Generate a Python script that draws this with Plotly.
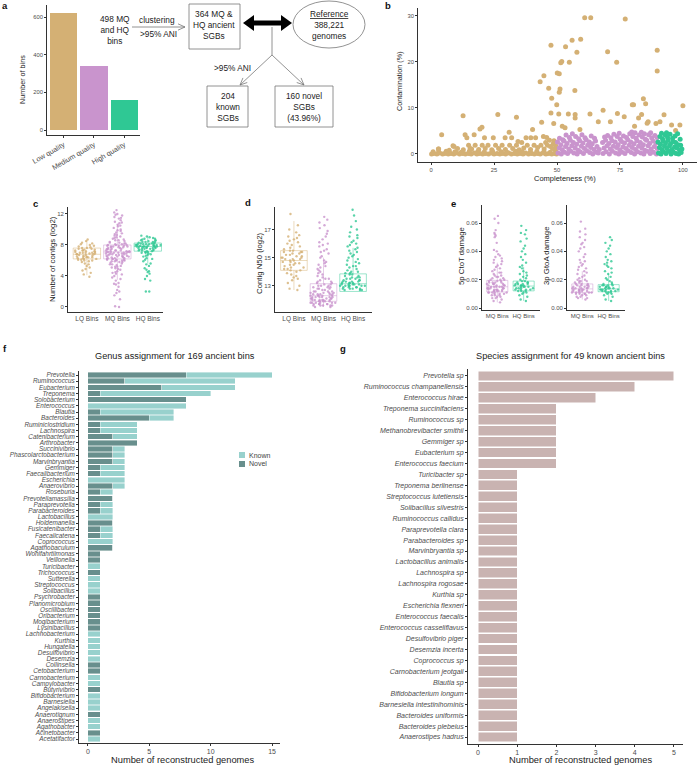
import math
import plotly.graph_objects as go

W, H = 698, 765
FONT = "Liberation Sans, Arial, Helvetica, sans-serif"

# ---------------- data ----------------
quality_labels = ["Low quality", "Medium quality", "High quality"]
bin_counts = [620, 338, 160]

# panel b: completeness / contamination (LQ scattered, LQ band, MQ, HQ)
lq_comp = [47.6,51.5,51.9,53.4,54.9,56.0,57.9,59.4,61.0,63.4,77.1,70.1,73.7,89.8,89.8,43.3,44.8,46.7,47.9,49.9,
           50.1,50.9,51.2,50.9,57.1,80.4,84.3,85.2,100.0,12.7,26.5,33.9,4.2,2.9,8.7,13.5,14.2,17.1,19.4,20.2,
           21.2,24.7,29.4,31.0,32.0,37.7,39.6,41.5,40.3,43.9,44.6,45.9,47.6,48.7,50.7,52.1,53.2,54.5,57.2,57.2,
           59.1,63.1,66.4,68.3,71.2,74.0,76.7,79.9,82.4,83.6,80.8,86.2,85.8,89.3,90.9,92.5,95.5,98.8,97.1]
lq_cont = [23.6,19.8,20.1,23.3,19.9,24.7,22.1,24.9,29.6,29.6,29.3,22.2,19.9,22.5,18.0,15.7,17.0,14.3,12.1,10.7,
           17.6,17.4,14.1,13.4,13.8,10.7,12.0,10.9,10.5,8.3,8.6,8.0,4.2,1.1,1.8,4.2,3.5,4.2,5.4,5.8,
           3.5,3.5,3.5,4.7,3.5,3.5,3.5,3.5,5.3,6.9,3.8,3.6,8.9,6.6,8.7,6.0,5.7,8.7,8.6,7.8,
           5.3,8.7,7.0,9.5,7.0,8.8,8.1,10.7,7.8,8.6,6.0,7.0,6.7,6.6,7.0,8.5,6.3,6.3,5.1]
lqb_comp = [0.2,1.1,2.3,3.4,4.6,5.5,6.8,7.9,9.0,10.2,11.3,12.5,13.6,14.8,15.9,17.1,18.2,19.3,20.5,21.6,22.8,23.9,
            25.0,26.2,27.3,28.5,29.6,30.8,31.9,33.0,34.2,35.3,36.5,37.6,38.7,39.9,41.0,42.2,43.3,44.5,45.6,46.7,
            47.9,49.0,49.8]
lqb_cont = [0.0,0.1,0.0,0.2,0.0,0.1,0.0,0.1,0.0,0.2,0.0,0.1,0.0,0.1,0.0,0.2,0.0,0.1,0.0,0.1,0.0,0.2,
            0.0,0.1,0.0,0.1,0.0,0.2,0.0,0.1,0.0,0.1,0.0,0.2,0.0,0.1,0.0,0.1,0.0,0.2,0.0,0.1,
            0.0,0.1,0.0]
lqr_comp = [0.8,3.0,6.0,9.5,12.0,15.2,18.5,21.0,24.4,27.8,30.1,33.6,36.2,39.4,42.0,44.8,47.3,49.5,
            12.8,14.9,16.1,17.5,18.9,20.3,21.5,22.6,24.1,25.6,26.8,28.2,29.5,31.2,32.4,33.9,35.0,36.8,38.2,39.5,
            40.9,42.3,43.6,44.9,46.2,47.4,48.5,49.3,45.5,47.0,48.8,36.0,10.5,9.1,7.2,3.0,15.5,34.5,49.5,48.2]
lqr_cont = [0.5,0.4,0.6,0.5,0.4,0.6,0.5,0.4,0.6,0.5,0.4,0.6,0.5,0.4,0.6,0.5,0.4,0.6,
            0.9,1.9,1.1,1.9,1.0,1.9,1.2,1.9,0.9,1.9,1.2,1.9,1.0,1.9,1.2,1.9,0.9,1.3,1.9,1.0,
            1.9,1.4,1.9,1.1,1.9,1.6,2.2,1.1,2.5,3.0,2.9,2.5,1.2,1.6,0.8,1.1,1.2,2.7,1.8,1.2]
mq_comp = [50.4,50.9,50.2,51.0, 51.7,52.1,51.5,52.3, 53.0,53.4,52.8,53.6, 54.2,54.7,54.0,54.9, 55.5,55.9,55.3,56.1,
           56.7,57.2,56.5,57.4, 58.0,58.4,57.8,58.6, 59.2,59.7,59.0,59.9, 60.5,60.9,60.3,61.1, 61.8,62.2,61.6,
           63.0,63.4,62.8,63.6, 64.2,64.7,64.0,64.9, 65.5,65.9,65.3, 66.4,66.8, 68.3,68.7,68.1,68.9,
           69.5,69.9,69.3,70.1, 70.8,71.2,70.6,71.4, 72.0,72.4,71.8,72.6, 73.3,73.7,73.1,73.9,
           74.5,74.9,74.3,75.1,74.7, 75.8,76.2,75.6,76.4, 77.0,77.4,76.8,77.6, 78.3,78.7,78.1,78.9,
           79.5,79.9,79.3,80.1,79.7, 80.8,81.2,80.6,81.4,81.0, 82.0,82.4,81.8,82.6, 83.3,83.7,83.1,83.9,83.5,
           84.5,84.9,84.3,85.1,84.7, 85.8,86.2,85.6,86.4, 87.0,87.4,86.8,87.6,87.2, 88.3,88.7,88.1,88.9,
           89.5,89.8,89.3,89.7]
mq_cont = [0.2,1.3,2.6,3.4, 0.0,0.9,2.0,3.1, 0.4,1.6,2.8,4.1, 0.1,1.1,2.3,3.6, 0.6,1.8,3.0,4.4,
           0.2,1.3,2.5,3.8, 0.0,0.8,2.1,3.3, 0.5,1.7,2.9,4.2, 0.1,1.2,2.4,3.5, 0.7,1.9,3.1,
           0.3,1.4,2.6,3.9, 0.0,1.0,2.2,3.4, 0.4,1.6,2.8, 0.2,1.0, 0.1,1.3,2.5,3.7,
           0.5,1.8,3.0,4.0, 0.0,1.1,2.3,3.5, 0.6,1.7,2.9,4.3, 0.2,1.4,2.6,3.8,
           0.0,0.9,2.0,3.2,4.5, 0.4,1.5,2.7,3.9, 0.1,1.2,2.4,3.6, 0.7,1.9,3.1,4.4,
           0.3,1.4,2.6,3.8,4.8, 0.0,1.0,2.2,3.4,4.6, 0.5,1.7,2.9,4.1, 0.2,1.3,2.5,3.7,4.7,
           0.0,0.8,2.0,3.2,4.4, 0.6,1.8,3.0,4.2, 0.1,1.1,2.3,3.5,4.6, 0.4,1.6,2.8,4.0,
           0.0,1.2,2.4,3.6]
hq_comp = [90.3,90.7,90.1,90.9, 91.3,91.7,91.1,91.9,91.5, 92.3,92.7,92.1,92.9, 93.3,93.7,93.1,93.9,93.5,
           94.3,94.7,94.1,94.9, 95.3,95.7,95.1,95.9, 96.3,96.7,96.1,96.9, 97.3,97.7,97.1,97.9,
           98.3,98.7,98.1,98.9, 99.3,99.6,99.1]
hq_cont = [0.2,1.4,2.6,3.8, 0.0,0.9,2.1,3.3,4.5, 0.5,1.7,2.9,4.2, 0.1,1.2,2.4,3.6,4.6,
           0.6,1.8,3.0,4.3, 0.0,1.0,2.2,3.4, 0.4,1.5,2.7,3.9, 0.1,1.3,2.5,4.4,
           0.0,0.8,2.0,3.2, 0.3,1.1,1.9]

bin_groups = ["LQ Bins", "MQ Bins", "HQ Bins"]
# panel c: number of contigs (log2)
c_lq = [3.9,4.2,4.4,4.7,4.9,5.1,5.3,5.5,5.6,5.8,5.9,6.0,6.1,6.1,6.2,6.2,6.3,6.3,6.4,6.4,6.5,6.5,6.5,6.6,6.6,6.7,
        6.7,6.8,6.8,6.8,6.9,6.9,7.0,7.0,7.0,7.1,7.1,7.2,7.2,7.3,7.3,7.4,7.4,7.5,7.5,7.6,7.6,7.7,7.8,7.9,8.0,8.1,
        8.2,8.3,8.5,8.7,6.0,6.4,7.0,7.3]
c_mq = [0.0,0.1,1.0,1.5,1.8,2.2,2.6,2.9,3.1,3.4,3.6,3.8,4.0,4.2,4.3,4.5,4.6,4.8,4.9,5.0,5.1,5.2,5.3,5.4,5.5,5.6,
        5.7,5.8,5.9,6.0,6.0,6.1,6.1,6.2,6.2,6.3,6.3,6.4,6.4,6.5,6.5,6.6,6.6,6.7,6.7,6.8,6.8,6.9,6.9,7.0,7.0,7.0,
        7.1,7.1,7.1,7.2,7.2,7.3,7.3,7.4,7.4,7.5,7.5,7.6,7.6,7.7,7.7,7.8,7.8,7.9,7.9,8.0,8.0,8.1,8.2,8.3,8.4,8.5,
        8.6,8.7,8.8,8.9,9.0,9.1,9.3,9.4,9.6,9.8,10.0,10.2,10.4,10.6,10.8,11.0,11.2,11.4,11.6,11.8,12.0,12.2,12.5,
        5.5,6.0,6.5,7.0,7.5,8.0,6.2,6.8,7.3,7.8,5.8,6.6,7.2,8.2,9.5,10.5,11.5,3.0,2.0,
        6.1,6.3,6.5,6.7,6.9,7.1,7.3,7.5,7.7,7.9,8.1,8.3,8.6,9.2,9.9,10.9,11.9,4.4,5.2,5.9]
c_hq = [2.0,2.0,3.4,3.6,4.0,4.3,4.5,4.6,4.8,5.0,5.3,5.6,5.9,6.1,6.3,6.5,6.6,6.8,6.9,7.0,7.1,7.1,7.2,7.2,7.3,7.3,
        7.4,7.4,7.5,7.5,7.6,7.6,7.7,7.7,7.7,7.8,7.8,7.8,7.9,7.9,7.9,8.0,8.0,8.0,8.1,8.1,8.1,8.2,8.2,8.3,8.3,8.4,
        8.4,8.5,8.5,8.6,8.6,8.7,8.8,8.9,9.0,9.1,9.2,7.5,7.8,8.0,8.2,7.6,7.9,8.1,7.3,6.7,6.2,5.5,8.8,8.4,7.0,7.6,
        7.8,8.0]
# box stats: q1, median, q3, lower whisker, upper whisker
c_stats = [[6.2, 6.8, 7.6, 4.1, 8.7], [6.2, 7.1, 8.0, 3.5, 10.7], [7.2, 7.8, 8.25, 5.6, 9.2]]

# panel d: contig N50 (log2)
d_lq = [12.7,12.8,13.0,13.2,13.4,13.5,13.7,13.8,13.9,14.0,14.1,14.1,14.2,14.3,14.3,14.4,14.5,14.5,14.6,14.7,14.7,
        14.8,14.8,14.9,14.9,15.0,15.0,15.1,15.1,15.2,15.2,15.3,15.3,15.4,15.4,15.5,15.5,15.6,15.7,15.8,15.9,16.0,
        16.1,16.2,16.3,16.5,16.6,16.8,17.0,17.3,18.1,14.2,14.6,15.0,15.4,13.6,16.4,14.9]
d_mq = [11.5,11.5,11.6,11.6,11.6,11.7,11.7,11.7,11.7,11.8,11.8,11.8,11.8,11.9,11.9,11.9,11.9,12.0,12.0,12.0,12.0,
        12.1,12.1,12.1,12.1,12.2,12.2,12.2,12.2,12.3,12.3,12.3,12.3,12.4,12.4,12.4,12.5,12.5,12.5,12.6,12.6,12.6,
        12.7,12.7,12.8,12.8,12.9,12.9,13.0,13.0,13.1,13.1,13.2,13.3,13.3,13.4,13.5,13.6,13.7,13.8,13.9,14.0,14.1,
        14.2,14.3,14.4,14.6,14.7,14.8,15.0,15.1,15.3,15.4,15.6,15.8,15.9,16.1,16.3,16.5,16.7,16.9,17.1,17.3,17.5,
        17.7,17.9,11.6,11.8,12.0,12.2,12.4,11.7,11.9,12.1,12.3,12.6,12.9,13.2,11.6,12.0,12.4,12.8,11.8,12.2,12.5,
        13.0,13.5,14.5,15.5,16.0]
d_hq = [12.7,12.7,12.8,12.8,12.8,12.9,12.9,12.9,13.0,13.0,13.0,13.0,13.1,13.1,13.1,13.1,13.2,13.2,13.2,13.3,13.3,
        13.3,13.4,13.4,13.5,13.5,13.6,13.6,13.7,13.7,13.8,13.8,13.9,13.9,14.0,14.1,14.2,14.3,14.4,14.5,14.6,14.7,
        14.8,14.9,15.0,15.1,15.2,15.3,15.4,15.5,15.6,15.7,15.8,15.9,16.0,16.1,16.2,16.4,16.5,16.6,16.8,17.0,17.2,
        17.6,18.0,18.4,12.8,13.0,13.2,13.4,12.9,13.1,13.3,13.6,14.0,14.4,12.7,13.0,13.5]
d_stats = [[14.1, 14.8, 15.5, 12.7, 17.6], [11.9, 12.3, 13.15, 11.5, 15.0], [12.6, 13.15, 13.85, 12.6, 15.7]]

# panel e: damage
dmg_groups = ["MQ Bins", "HQ Bins"]
e1_mq = [0.004,0.005,0.006,0.007,0.007,0.008,0.008,0.009,0.009,0.010,0.010,0.010,0.011,0.011,0.011,0.011,0.012,
         0.012,0.012,0.012,0.013,0.013,0.013,0.013,0.014,0.014,0.014,0.014,0.015,0.015,0.015,0.015,0.016,0.016,
         0.016,0.017,0.017,0.017,0.018,0.018,0.018,0.019,0.019,0.019,0.020,0.020,0.021,0.021,0.022,0.022,0.023,
         0.023,0.024,0.025,0.025,0.026,0.027,0.028,0.029,0.030,0.031,0.032,0.033,0.034,0.035,0.036,0.037,0.038,
         0.040,0.041,0.046,0.050,0.051,0.052,0.053,0.055,0.060,0.063,0.065,0.012,0.014,0.016,0.018,0.013,0.015,
         0.017,0.011,0.020,0.009]
e1_hq = [0.005,0.006,0.008,0.009,0.010,0.011,0.011,0.012,0.012,0.013,0.013,0.013,0.014,0.014,0.014,0.015,0.015,
         0.015,0.016,0.016,0.016,0.017,0.017,0.017,0.018,0.018,0.019,0.019,0.020,0.021,0.022,0.023,0.024,0.025,
         0.026,0.028,0.029,0.030,0.032,0.034,0.036,0.038,0.040,0.042,0.044,0.047,0.049,0.052,0.053,0.055,0.058,
         0.013,0.015,0.017,0.014,0.016,0.012,0.018]
e2_mq = [0.006,0.007,0.007,0.008,0.008,0.009,0.009,0.010,0.010,0.010,0.011,0.011,0.011,0.011,0.012,0.012,0.012,
         0.012,0.013,0.013,0.013,0.013,0.014,0.014,0.014,0.014,0.015,0.015,0.015,0.016,0.016,0.016,0.017,0.017,
         0.018,0.018,0.019,0.019,0.020,0.020,0.021,0.022,0.023,0.024,0.025,0.026,0.027,0.028,0.029,0.030,0.031,
         0.032,0.033,0.034,0.036,0.038,0.040,0.042,0.043,0.045,0.046,0.048,0.050,0.052,0.054,0.056,0.061,0.012,
         0.013,0.014,0.015,0.011,0.016,0.010,0.017,0.019]
e2_hq = [0.005,0.006,0.008,0.009,0.010,0.010,0.011,0.011,0.012,0.012,0.012,0.013,0.013,0.013,0.013,0.014,0.014,
         0.014,0.015,0.015,0.015,0.016,0.016,0.016,0.017,0.017,0.018,0.019,0.020,0.021,0.022,0.024,0.025,0.026,
         0.028,0.029,0.030,0.031,0.032,0.033,0.034,0.036,0.038,0.040,0.042,0.044,0.046,0.048,0.050,0.012,0.014,
         0.013,0.015,0.011,0.016]
e1_stats = [[0.0113, 0.015, 0.0195, 0.004, 0.032], [0.0121, 0.0155, 0.019, 0.005, 0.029]]
e2_stats = [[0.011, 0.0135, 0.017, 0.006, 0.026], [0.0115, 0.0135, 0.0165, 0.005, 0.024]]

# panel f: genus assignment
genera = ["Prevotella","Ruminococcus","Eubacterium","Treponema","Solobacterium","Enterococcus","Blautia",
          "Bacteroides","Ruminiclostridium","Lachnospira","Catenibacterium","Arthrobacter","Succinivibrio",
          "Phascolarctobacterium","Marvinbryantia","Gemmiger","Faecalibacterium","Escherichia","Anaerovibrio",
          "Roseburia","Prevotellamassilia","Paraprevotella","Parabacteroides","Lactobacillus","Holdemanella",
          "Fusicatenibacter","Faecalicatena","Coprococcus","Agathobaculum","Wohlfahrtiimonas","Veillonella",
          "Turicibacter","Trichococcus","Sutterella","Streptococcus","Solibacillus","Psychrobacter",
          "Planomicrobium","Oscillibacter","Oribacterium","Mogibacterium","Lysinibacillus","Lachnobacterium",
          "Kurthia","Hungatella","Desulfovibrio","Desemzia","Collinsella","Cetobacterium","Carnobacterium",
          "Campylobacter","Butyrivibrio","Bifidobacterium","Barnesiella","Angelakisella","Anaerotignum",
          "Anaerostipes","Agathobacter","Acinetobacter","Acetatifactor"]
genus_novel = [8,3,6,1,8,0,1,5,1,1,2,4,2,2,2,1,1,0,2,1,2,1,1,0,2,1,1,0,2,1,1,0,1,0,0,0,1,1,1,1,1,1,0,0,0,0,0,
               1,1,0,0,1,0,0,0,1,0,0,1,0]
genus_known = [7,9,6,9,0,8,6,2,3,3,2,0,1,1,1,2,2,3,1,1,0,1,1,2,0,1,1,2,0,0,0,1,0,1,1,1,0,0,0,0,0,0,1,1,1,1,1,
               0,0,1,1,0,1,1,1,0,1,1,0,1]

# panel g: species assignment
species = ["Prevotella sp","Ruminococcus champanellensis","Enterococcus hirae","Treponema succinifaciens",
           "Ruminococcus sp","Methanobrevibacter smithii","Gemmiger sp","Eubacterium sp","Enterococcus faecium",
           "Turicibacter sp","Treponema berlinense","Streptococcus lutetiensis","Solibacillus silvestris",
           "Ruminococcus callidus","Paraprevotella clara","Parabacteroides sp","Marvinbryantia sp",
           "Lactobacillus animalis","Lachnospira sp","Lachnospira rogosae","Kurthia sp","Escherichia flexneri",
           "Enterococcus faecalis","Enterococcus casseliflavus","Desulfovibrio piger","Desemzia incerta",
           "Coprococcus sp","Carnobacterium jeotgali","Blautia sp","Bifidobacterium longum",
           "Barnesiella intestinihominis","Bacteroides uniformis","Bacteroides plebeius","Anaerostipes hadrus"]
species_counts = [5,4,3,2,2,2,2,2,2,1,1,1,1,1,1,1,1,1,1,1,1,1,1,1,1,1,1,1,1,1,1,1,1,1]

# ---------------- styling ----------------
C_LQ, C_MQ, C_HQ = "#D4B074", "#C994CD", "#2FC894"
C_LQ_L, C_MQ_L, C_HQ_L = "rgba(212,176,116,0.6)", "rgba(201,148,205,0.6)", "rgba(47,200,148,0.6)"
C_KNOWN, C_NOVEL, C_SP = "#98D1CD", "#688F8D", "#C9B3B1"
AX = "#333333"
TICK = "#4d4d4d"


def X(p):
    return p / W


def Y(p):
    return 1 - p / H


def axis(dom, rng, size=6, **kw):
    d = dict(domain=dom, range=rng, showline=True, linecolor=AX, linewidth=0.8, ticks="outside",
             ticklen=2, tickwidth=0.6, tickcolor=AX, showgrid=False, zeroline=False, automargin=False,
             tickfont=dict(family=FONT, size=size, color=TICK), fixedrange=True)
    d.update(kw)
    return d


fig = go.Figure()

# a: bars
fig.add_trace(go.Bar(x=quality_labels, y=bin_counts, marker=dict(color=[C_LQ, C_MQ, C_HQ], line=dict(width=0)),
                     width=0.9, xaxis="x", yaxis="y", showlegend=False))

# b: scatter
fig.add_trace(go.Scatter(x=lq_comp + lqb_comp + lqr_comp, y=lq_cont + lqb_cont + lqr_cont, mode="markers",
                         marker=dict(color=C_LQ, size=5), xaxis="x2", yaxis="y2", showlegend=False))
fig.add_trace(go.Scatter(x=mq_comp, y=mq_cont, mode="markers", marker=dict(color=C_MQ, size=5),
                         xaxis="x2", yaxis="y2", showlegend=False))
fig.add_trace(go.Scatter(x=hq_comp, y=hq_cont, mode="markers", marker=dict(color=C_HQ, size=5),
                         xaxis="x2", yaxis="y2", showlegend=False))


def box_panel(xa, ya, cats, datas, stats, cols, lcols, width):
    for cat, st, lc in zip(cats, stats, lcols):
        fig.add_trace(go.Box(x=[cat], q1=[st[0]], median=[st[1]], q3=[st[2]], lowerfence=[st[3]],
                             upperfence=[st[4]], orientation="v", boxpoints=False, fillcolor="rgba(0,0,0,0)",
                             line=dict(color=lc, width=0.8), whiskerwidth=0, width=width,
                             xaxis=xa, yaxis=ya, showlegend=False, hoverinfo="skip"))
    for cat, data, c in zip(cats, datas, cols):
        fig.add_trace(go.Box(x=[cat] * len(data), y=data, boxpoints="all", jitter=1.0, pointpos=0,
                             fillcolor="rgba(0,0,0,0)", line=dict(color="rgba(0,0,0,0)", width=0),
                             marker=dict(color=c, size=2.4, opacity=0.8), width=width, whiskerwidth=0,
                             xaxis=xa, yaxis=ya, showlegend=False))


box_panel("x3", "y3", bin_groups, [c_lq, c_mq, c_hq], c_stats, [C_LQ, C_MQ, C_HQ], [C_LQ_L, C_MQ_L, C_HQ_L], 0.9)
box_panel("x4", "y4", bin_groups, [d_lq, d_mq, d_hq], d_stats, [C_LQ, C_MQ, C_HQ], [C_LQ_L, C_MQ_L, C_HQ_L], 0.9)
box_panel("x5", "y5", dmg_groups, [e1_mq, e1_hq], e1_stats, [C_MQ, C_HQ], [C_MQ_L, C_HQ_L], 0.8)
box_panel("x6", "y6", dmg_groups, [e2_mq, e2_hq], e2_stats, [C_MQ, C_HQ], [C_MQ_L, C_HQ_L], 0.8)

# f: stacked genus bars
fig.add_trace(go.Bar(y=genera, x=genus_novel, orientation="h", marker=dict(color=C_NOVEL, line=dict(color="white", width=0.4)),
                     width=0.9, xaxis="x7", yaxis="y7", showlegend=False, name="Novel"))
fig.add_trace(go.Bar(y=genera, x=genus_known, orientation="h", marker=dict(color=C_KNOWN, line=dict(color="white", width=0.4)),
                     width=0.9, xaxis="x7", yaxis="y7", showlegend=False, name="Known"))

# g: species bars
fig.add_trace(go.Bar(y=species, x=species_counts, orientation="h", marker=dict(color=C_SP, line=dict(color="white", width=0.5)),
                     width=0.9, xaxis="x8", yaxis="y8", showlegend=False))

# ---------------- layout ----------------
layout = dict(
    width=W, height=H, margin=dict(l=0, r=0, t=0, b=0, autoexpand=False), paper_bgcolor="white",
    plot_bgcolor="white", barmode="stack", boxmode="overlay", font=dict(family=FONT, color="#222"),
    xaxis=axis([X(47), X(140)], [-0.55, 2.52], size=7.2, anchor="y", tickangle=-30, type="category"),
    yaxis=axis([Y(135), Y(5)], [-26.5, 663.7], size=5.8, anchor="x", tickvals=[0, 200, 400, 600]),
    xaxis2=axis([X(418), X(697)], [-5.2, 105.6], size=5.8, anchor="y2", tickvals=[0, 25, 50, 75, 100]),
    yaxis2=axis([Y(162), Y(8)], [-1.74, 31.7], size=5.8, anchor="x2", tickvals=[0, 10, 20, 30]),
    xaxis3=axis([X(68), X(163)], [-0.62, 2.5], size=6.5, anchor="y3", type="category", tickangle=0,
                categoryorder="array", categoryarray=bin_groups, ticks=""),
    yaxis3=axis([Y(312), Y(207)], [-0.65, 12.9], size=6, anchor="x3", tickvals=[0, 4, 8, 12]),
    xaxis4=axis([X(275), X(372)], [-0.64, 2.64], size=6.5, anchor="y4", type="category", tickangle=0,
                categoryorder="array", categoryarray=bin_groups, ticks=""),
    yaxis4=axis([Y(312), Y(207)], [11.14, 18.6], size=6, anchor="x4", tickvals=[13, 15, 17]),
    xaxis5=axis([X(482), X(540)], [-0.58, 1.62], size=6, anchor="y5", type="category", tickangle=0,
                categoryorder="array", categoryarray=dmg_groups, ticks=""),
    yaxis5=axis([Y(310), Y(205)], [-0.0014, 0.0727], size=6, anchor="x5", tickvals=[0, 0.02, 0.04, 0.06],
                tickformat=".2f"),
    xaxis6=axis([X(567), X(625)], [-0.58, 1.62], size=6, anchor="y6", type="category", tickangle=0,
                categoryorder="array", categoryarray=dmg_groups, ticks=""),
    yaxis6=axis([Y(310), Y(205)], [-0.0014, 0.0727], size=6, anchor="x6", tickvals=[0, 0.02, 0.04, 0.06],
                tickformat=".2f"),
    xaxis7=axis([X(79), X(280)], [-0.73, 15.65], size=7, anchor="y7", tickvals=[0, 5, 10, 15]),
    yaxis7=axis([Y(742.7), Y(371.3)], [59.6, -0.6], size=6.4, anchor="x7", type="category",
                categoryorder="array", categoryarray=genera, tickmode="array", tickvals=genera, ticktext=genera,
                tickfont=dict(family=FONT, size=6.4, color=TICK, style="italic")),
    xaxis8=axis([X(468), X(683)], [-0.255, 5.23], size=7, anchor="y8", tickvals=[0, 1, 2, 3, 4, 5]),
    yaxis8=axis([Y(743.6), Y(369.4)], [33.6, -0.6], size=7, anchor="x8", type="category",
                categoryorder="array", categoryarray=species, tickmode="array", tickvals=species, ticktext=species,
                tickfont=dict(family=FONT, size=7, color=TICK, style="italic")),
)
fig.update_layout(**layout)

ann = []


def txt(x, y, s, size, color="#222", angle=0, xanchor="center", yanchor="middle", bold=False):
    f = dict(family=FONT, size=size, color=color)
    if bold:
        f["weight"] = "bold"
    ann.append(dict(x=X(x), y=Y(y), xref="paper", yref="paper", text=s, showarrow=False, font=f,
                    textangle=angle, xanchor=xanchor, yanchor=yanchor))


# panel letters
for lab, (lx, ly) in {"a": (5, 6), "b": (388, 6), "c": (35, 204), "d": (248, 203), "e": (453, 204),
                      "f": (5, 349), "g": (343, 349)}.items():
    txt(lx, ly, lab, 9.5, color="#111", bold=True)

# axis titles
txt(23, 79, "Number of bins", 7.2, angle=-90)
txt(400, 81, "Contamination (%)", 7.2, angle=-90)
txt(565, 178, "Completeness (%)", 7.5)
txt(52, 259, "Number of contigs (log2)", 7.8, angle=-90)
txt(259, 263, "Contig N50 (log2)", 7.8, angle=-90)
txt(462, 256, "5p CtoT damage", 7.8, angle=-90)
txt(547, 256, "3p GtoA damage", 7.8, angle=-90)
txt(175, 356, "Genus assignment for 169 ancient bins", 9.2)
txt(183, 760, "Number of reconstructed genomes", 9.3)
txt(570, 356, "Species assignment for 49 known ancient bins", 9.2)
txt(580, 760, "Number of reconstructed genomes", 9.3)

# flowchart texts
txt(115, 30, "498 MQ<br>and HQ<br>bins", 8.3)
txt(157, 20, "clustering", 8.3)
txt(158, 34, ">95% ANI", 8.3)
txt(214, 25, "364 MQ &<br>HQ ancient<br>SGBs", 8.3)
txt(329, 25, "<u>Reference</u><br>388,221<br>genomes", 8.3)
txt(232, 68, ">95% ANI", 8.3)
txt(228, 107, "204<br>known<br>SGBs", 8.3)
txt(304, 107, "160 novel<br>SGBs<br>(43.96%)", 8.3)

# legend f
txt(247, 455, "Known", 7, color="#444", xanchor="left")
txt(247, 464, "Novel", 7, color="#444", xanchor="left")

shapes = []
LC = "#777777"


def seg(x0, y0, x1, y1, color=LC, w=0.8):
    shapes.append(dict(type="line", xref="paper", yref="paper", x0=X(x0), y0=Y(y0), x1=X(x1), y1=Y(y1),
                       line=dict(color=color, width=w)))


def arrow(x0, y0, x1, y1, head=7, spread=0.45):
    seg(x0, y0, x1, y1)
    L = math.hypot(x1 - x0, y1 - y0)
    ux, uy = (x1 - x0) / L, (y1 - y0) / L
    px_, py_ = -uy, ux
    for s in (1, -1):
        seg(x1 - head * ux + s * head * spread * px_, y1 - head * uy + s * head * spread * py_, x1, y1)


def rect(x0, y0, x1, y1, **kw):
    shapes.append(dict(type="rect", xref="paper", yref="paper", x0=X(x0), x1=X(x1), y0=Y(y1), y1=Y(y0), **kw))


rect(189, 4, 240, 49, line=dict(color=LC, width=0.8))
rect(207, 86, 248, 127, line=dict(color=LC, width=0.8))
rect(275, 86, 333, 127, line=dict(color=LC, width=0.8))
shapes.append(dict(type="circle", xref="paper", yref="paper", x0=X(293), x1=X(365), y0=Y(48), y1=Y(1),
                   line=dict(color=LC, width=0.8)))
arrow(132, 27, 185, 27)
seg(272, 27, 272, 55)
arrow(272, 55, 240, 85)
arrow(272, 55, 304, 85)
pts = [(243, 23), (254, 15), (254, 20.5), (281, 20.5), (281, 15), (292, 23), (281, 31), (281, 25.5),
       (254, 25.5), (254, 31)]
path = "M " + " L ".join(f"{X(a):.5f},{Y(b):.5f}" for a, b in pts) + " Z"
shapes.append(dict(type="path", xref="paper", yref="paper", path=path, fillcolor="black", line=dict(width=0)))

# legend squares
rect(239, 452, 245, 458, fillcolor=C_KNOWN, line=dict(width=0))
rect(239, 461, 245, 467, fillcolor=C_NOVEL, line=dict(width=0))

fig.update_layout(annotations=ann, shapes=shapes)
fig.write_html("out.html", config={"displayModeBar": False},
               post_script="document.body.style.margin='0';")
